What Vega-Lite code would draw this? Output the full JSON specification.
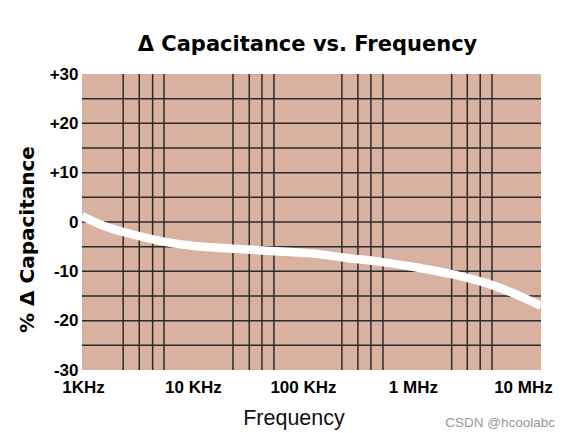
{
  "$schema": "https://vega.github.io/schema/vega-lite/v6.json",
  "width": 459,
  "height": 296,
  "autosize": {"type": "none"},
  "padding": {"left": 82, "top": 74, "right": 31, "bottom": 63},
  "background": "white",
  "config": {"view": {"fill": "#d9b1a0", "stroke": null}},
  "title": {
    "text": "Δ Capacitance vs. Frequency",
    "font": "DejaVu Sans",
    "fontWeight": "bold",
    "fontSize": 21,
    "color": "#000000",
    "anchor": "middle",
    "dx": -4,
    "dy": 29,
    "baseline": "alphabetic",
    "offset": 22
  },
  "datasets": {
    "curve": [
      {"freq": 980, "pct": 1.2},
      {"freq": 1427, "pct": -0.6},
      {"freq": 2324, "pct": -2.1},
      {"freq": 5370, "pct": -4.1},
      {"freq": 10800, "pct": -5.0},
      {"freq": 23240, "pct": -5.4},
      {"freq": 53700, "pct": -5.9},
      {"freq": 93900, "pct": -6.2},
      {"freq": 142800, "pct": -6.5},
      {"freq": 226300, "pct": -7.2},
      {"freq": 537000, "pct": -8.1},
      {"freq": 1081000, "pct": -9.2},
      {"freq": 2248000, "pct": -10.5},
      {"freq": 5227000, "pct": -12.6},
      {"freq": 8770000, "pct": -14.7},
      {"freq": 14600000, "pct": -17.0}
    ],
    "vgrid": [
      {"freq": 2320}, {"freq": 3250}, {"freq": 4300}, {"freq": 5450},
      {"freq": 23100}, {"freq": 32500}, {"freq": 42400}, {"freq": 54500},
      {"freq": 226000}, {"freq": 316000}, {"freq": 415000}, {"freq": 534000},
      {"freq": 2250000}, {"freq": 3120000}, {"freq": 4090000}, {"freq": 5230000}
    ],
    "hgrid": [
      {"pct": -25}, {"pct": -20}, {"pct": -15}, {"pct": -10}, {"pct": -5},
      {"pct": 0}, {"pct": 5}, {"pct": 10}, {"pct": 15}, {"pct": 20}, {"pct": 25}
    ]
  },
  "layer": [
    {
      "data": {"name": "vgrid"},
      "mark": {"type": "rule", "color": "#2a2a2a", "strokeWidth": 1.5},
      "encoding": {
        "x": {
          "field": "freq",
          "type": "quantitative",
          "scale": {"type": "log", "domain": [980, 14600000], "nice": false},
          "axis": {
            "values": [1000, 10000, 100000, 1000000, 10000000],
            "labelExpr": "datum.value == 1000 ? '1KHz' : datum.value == 10000 ? '10 KHz' : datum.value == 100000 ? '100 KHz' : datum.value == 1000000 ? '1 MHz' : '10 MHz'",
            "grid": false,
            "ticks": false,
            "domain": false,
            "labelFont": "Liberation Sans",
            "labelFontWeight": "bold",
            "labelFontSize": 17,
            "labelColor": "#000000",
            "labelPadding": 9,
            "labelFlush": false,
            "labelOverlap": false,
            "title": "Frequency",
            "titleFont": "Liberation Sans",
            "titleFontWeight": "normal",
            "titleFontSize": 21.5,
            "titleColor": "#111111",
            "titleX": 211.5,
            "titleY": 37,
            "titleBaseline": "top"
          }
        }
      }
    },
    {
      "data": {"name": "hgrid"},
      "mark": {"type": "rule", "color": "#2a2a2a", "strokeWidth": 1.5},
      "encoding": {
        "y": {
          "field": "pct",
          "type": "quantitative",
          "scale": {"domain": [-30, 30], "nice": false, "zero": false},
          "axis": {
            "values": [-30, -20, -10, 0, 10, 20, 30],
            "labelExpr": "datum.value > 0 ? '+' + datum.value : '' + datum.value",
            "grid": false,
            "ticks": false,
            "domain": false,
            "labelFont": "Liberation Sans",
            "labelFontWeight": "bold",
            "labelFontSize": 17,
            "labelColor": "#000000",
            "labelPadding": 4,
            "labelFlush": false,
            "labelOverlap": false,
            "title": "% Δ Capacitance",
            "titleFont": "DejaVu Sans",
            "titleFontWeight": "bold",
            "titleFontSize": 20,
            "titleColor": "#000000",
            "titleX": -45,
            "titleY": 165,
            "titleBaseline": "bottom"
          }
        }
      }
    },
    {
      "data": {"name": "curve"},
      "mark": {"type": "line", "color": "#ffffff", "strokeWidth": 8.5, "strokeCap": "butt", "interpolate": "basis", "clip": true},
      "encoding": {
        "x": {"field": "freq", "type": "quantitative"},
        "y": {"field": "pct", "type": "quantitative"}
      }
    },
    {
      "data": {"values": [{"note": "CSDN @hcoolabc", "freq": 14600000, "pct": -30}]},
      "mark": {"type": "text", "align": "right", "baseline": "middle", "dx": 14, "dy": 53, "font": "Liberation Sans", "fontSize": 13.5, "color": "#999999"},
      "encoding": {
        "x": {"field": "freq", "type": "quantitative"},
        "y": {"field": "pct", "type": "quantitative"},
        "text": {"field": "note"}
      }
    }
  ]
}
